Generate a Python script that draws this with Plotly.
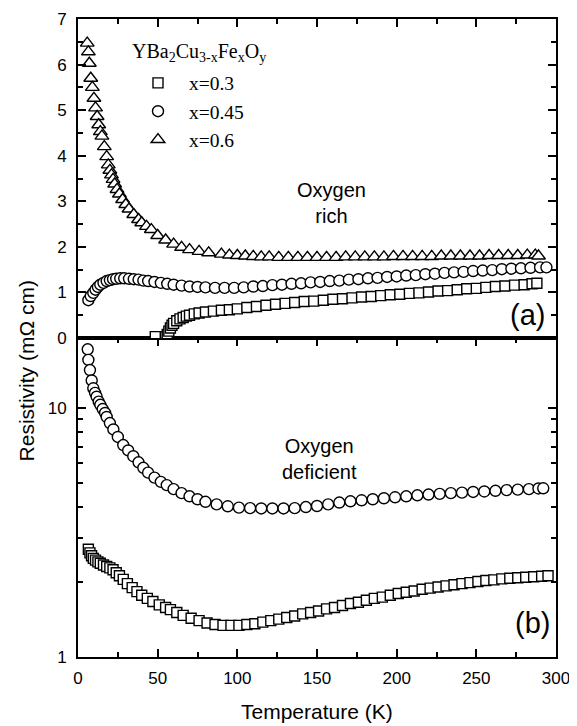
import plotly.graph_objects as go

# ---------------- data ----------------
# (a) Oxygen rich
T_rich_x03 = [48.5, 55, 56, 57, 58, 59, 60, 62, 64, 66, 68, 70, 73, 76, 80, 85, 90, 95, 100,
              106, 112, 118, 124, 130, 136, 142, 148, 154, 160, 166, 172, 178, 184, 190, 196,
              202, 208, 214, 220, 226, 232, 238, 244, 250, 256, 262, 268, 274, 280, 285, 288]
R_rich_x03 = [0.03, 0.03, 0.08, 0.15, 0.22, 0.28, 0.32, 0.38, 0.42, 0.45, 0.48, 0.50, 0.53, 0.55,
              0.57, 0.59, 0.61, 0.62, 0.64, 0.67, 0.69, 0.72, 0.74, 0.76, 0.78, 0.80, 0.81, 0.83,
              0.85, 0.86, 0.88, 0.90, 0.91, 0.93, 0.95, 0.96, 0.98, 0.99, 1.01, 1.03, 1.04, 1.06,
              1.08, 1.09, 1.11, 1.13, 1.14, 1.16, 1.17, 1.19, 1.20]

T_rich_x045 = [6.5, 8, 9.6, 11, 12.5, 14, 16, 18, 20, 22, 24, 26.5, 29, 32, 35, 38, 41, 44, 48,
               52, 56, 60, 65, 70, 75, 80, 86, 92, 98, 104, 110, 116, 122, 128, 134, 140, 146,
               152, 158, 164, 170, 176, 182, 188, 194, 200, 206, 212, 218, 224, 230, 236, 242,
               248, 254, 260, 266, 272, 278, 284, 290, 294]
R_rich_x045 = [0.83, 0.92, 0.99, 1.06, 1.12, 1.17, 1.21, 1.25, 1.27, 1.29, 1.30, 1.31, 1.31, 1.30,
               1.29, 1.28, 1.26, 1.25, 1.23, 1.21, 1.19, 1.17, 1.15, 1.13, 1.12, 1.11, 1.10, 1.10,
               1.10, 1.11, 1.13, 1.14, 1.16, 1.17, 1.19, 1.20, 1.22, 1.23, 1.25, 1.26, 1.28, 1.29,
               1.31, 1.32, 1.34, 1.35, 1.37, 1.38, 1.40, 1.41, 1.43, 1.44, 1.45, 1.47, 1.48, 1.49,
               1.51, 1.52, 1.53, 1.54, 1.55, 1.55]

T_rich_x06 = [5.8, 6.5, 7.1, 8, 9, 10, 11, 12, 13, 14, 15, 16.5, 18, 19, 20, 21, 22, 23, 24.5, 26,
              28, 30, 32, 35, 38, 40, 43, 46, 50, 55, 60, 65, 70, 76, 82, 90, 95, 100, 105, 110,
              115, 120, 126, 132, 138, 144, 150, 156, 162, 168, 174, 180, 186, 192, 198, 204,
              210, 216, 222, 228, 234, 240, 246, 252, 258, 264, 270, 276, 282, 287, 289]
R_rich_x06 = [6.47, 6.28, 6.03, 5.70, 5.50, 5.26, 5.05, 4.86, 4.68, 4.53, 4.43, 4.20, 3.98, 3.80,
              3.68, 3.58, 3.48, 3.38, 3.26, 3.16, 3.04, 2.93, 2.83, 2.71, 2.60, 2.53, 2.45, 2.38,
              2.25, 2.15, 2.06, 1.99, 1.94, 1.90, 1.87, 1.84, 1.82, 1.81, 1.80, 1.79, 1.78, 1.78,
              1.77, 1.77, 1.77, 1.77, 1.77, 1.77, 1.77, 1.78, 1.78, 1.78, 1.78, 1.78, 1.79, 1.79,
              1.79, 1.79, 1.79, 1.80, 1.80, 1.80, 1.80, 1.80, 1.81, 1.81, 1.81, 1.81, 1.82, 1.82,
              1.80]

# (b) Oxygen deficient
T_def_x03 = [6.5, 7.5, 8.5, 9.6, 11, 12.5, 14, 16, 18, 20, 22, 24, 26, 28.4, 31, 34, 37, 40,
             43.5, 47, 51, 55, 58, 62, 66, 71, 76, 81, 86, 91, 96, 101, 106, 111, 116, 121, 126,
             131, 136, 141, 146, 151, 156, 161, 166, 171, 176, 181, 186, 191, 196, 201, 206, 211,
             216, 221, 226, 231, 236, 241, 246, 251, 256, 261, 266, 271, 276, 281, 286, 291, 295]
R_def_x03 = [2.71, 2.62, 2.55, 2.49, 2.45, 2.41, 2.38, 2.34, 2.31, 2.28, 2.24, 2.18, 2.12, 2.05,
             1.97, 1.90, 1.83, 1.77, 1.72, 1.67, 1.62, 1.58, 1.55, 1.51, 1.47, 1.43, 1.40, 1.37,
             1.35, 1.34, 1.34, 1.34, 1.35, 1.36, 1.38, 1.40, 1.42, 1.44, 1.46, 1.49, 1.51, 1.53,
             1.56, 1.58, 1.61, 1.64, 1.66, 1.69, 1.72, 1.74, 1.77, 1.80, 1.82, 1.84, 1.87, 1.89,
             1.91, 1.93, 1.95, 1.97, 1.99, 2.01, 2.03, 2.04, 2.06, 2.07, 2.08, 2.09, 2.10, 2.11,
             2.12]

T_def_x045 = [6.1, 6.5, 7.5, 8.6, 9.6, 10.7, 11.7, 13, 14, 15.5, 17, 18, 20, 22.2, 25, 28.4, 31.5,
              34.7, 38, 41, 44, 48, 52, 55.7, 60, 65, 70, 75, 80, 87, 94, 101, 108, 115, 122, 129,
              136, 143, 150, 157, 164, 171, 178, 185, 192, 199, 206, 213, 220, 227, 234, 241, 248,
              255, 262, 269, 276, 283, 289, 292]
R_def_x045 = [17.2, 15.6, 14.2, 12.9, 12.0, 11.5, 11.1, 10.6, 10.3, 9.9, 9.55, 9.2, 8.7, 8.2, 7.65,
              7.1, 6.75, 6.4, 6.05, 5.75, 5.5, 5.25, 5.05, 4.9, 4.72, 4.55, 4.42, 4.3, 4.2, 4.1,
              4.03, 3.98, 3.96, 3.95, 3.95, 3.95, 3.96, 4.0, 4.04, 4.1, 4.17, 4.22, 4.26, 4.3,
              4.34, 4.38, 4.42, 4.46, 4.49, 4.52, 4.55, 4.57, 4.6, 4.62, 4.65, 4.68, 4.7, 4.72,
              4.75, 4.76]

x_ticks = [0, 50, 100, 150, 200, 250, 300]
legend_labels = ["x=0.3", "x=0.45", "x=0.6"]
formula = "YBa<sub>2</sub>Cu<sub>3-x</sub>Fe<sub>x</sub>O<sub>y</sub>"

# ---------------- figure ----------------
# the page body has an 8px margin, so the figure is 8px smaller than the window
W, H = 569, 718

fig = go.Figure()

def mk(symbol, size):
    return dict(symbol=symbol, size=size, color="white", line=dict(color="black", width=1.4))

# top panel (a)
fig.add_trace(go.Scatter(x=T_rich_x03, y=R_rich_x03, mode="markers", name=legend_labels[0],
                         marker=mk("square", 10), xaxis="x2", yaxis="y2"))
fig.add_trace(go.Scatter(x=T_rich_x045, y=R_rich_x045, mode="markers", name=legend_labels[1],
                         marker=mk("circle", 11), xaxis="x2", yaxis="y2"))
fig.add_trace(go.Scatter(x=T_rich_x06, y=R_rich_x06, mode="markers", name=legend_labels[2],
                         marker=mk("triangle-up", 12), xaxis="x2", yaxis="y2"))
# bottom panel (b)
fig.add_trace(go.Scatter(x=T_def_x03, y=R_def_x03, mode="markers", showlegend=False,
                         marker=mk("square", 10), xaxis="x", yaxis="y"))
fig.add_trace(go.Scatter(x=T_def_x045, y=R_def_x045, mode="markers", showlegend=False,
                         marker=mk("circle", 11), xaxis="x", yaxis="y"))

tickfont = dict(family="Liberation Sans, Arial, sans-serif", size=17, color="black")
common_x = dict(range=[0, 300], tickvals=x_ticks, ticks="inside", ticklen=8, tickwidth=1.5,
                tickcolor="black", showline=True, linewidth=2, linecolor="black",
                showgrid=False, zeroline=False,
                minor=dict(dtick=25, tick0=0, ticks="inside", ticklen=5, tickwidth=1.5,
                           tickcolor="black", showgrid=False))

fig.update_layout(
    width=W, height=H,
    margin=dict(l=70, r=21, t=11, b=69, autoexpand=False),
    paper_bgcolor="white", plot_bgcolor="white",
    font=dict(family="Liberation Sans, Arial, sans-serif", color="black"),
    xaxis=dict(common_x, domain=[0, 1], anchor="y", mirror="ticks", tickfont=tickfont,
               ticklabelstandoff=5),
    yaxis=dict(type="log", range=[0, 1.281], domain=[0, 0.5], anchor="x",
               tickvals=[1, 10], ticktext=["1", "10"], ticks="inside", ticklen=8,
               tickwidth=1.5, tickcolor="black", showline=True, linewidth=2,
               linecolor="black", mirror="ticks", showgrid=False, zeroline=False,
               tickfont=tickfont, ticklabelstandoff=6,
               minor=dict(tickvals=[2, 3, 4, 5, 6, 7, 8, 9, 20], ticks="inside", ticklen=5,
                          tickwidth=1.5, tickcolor="black", showgrid=False)),
    xaxis2=dict(common_x, domain=[0, 1], anchor="y2", side="top", mirror=True,
                showticklabels=False),
    yaxis2=dict(range=[0, 7], domain=[0.5, 1], anchor="x2", dtick=1, tick0=0,
                ticks="inside", ticklen=8, tickwidth=1.5, tickcolor="black",
                showline=True, linewidth=2, linecolor="black", mirror="ticks",
                showgrid=False, zeroline=False, tickfont=tickfont, ticklabelstandoff=6,
                minor=dict(dtick=0.5, tick0=0, ticks="inside", ticklen=5, tickwidth=1.5,
                           tickcolor="black", showgrid=False)),
    showlegend=True,
    legend=dict(x=0.1025, y=0.930, xanchor="left", yanchor="top",
                bgcolor="rgba(0,0,0,0)", borderwidth=0,
                font=dict(family="Liberation Serif, Times New Roman, serif", size=19.5,
                          color="black"),
                itemwidth=52),
)

serif = dict(family="Liberation Serif, Times New Roman, serif", size=20, color="black")
sans = dict(family="Liberation Sans, Arial, sans-serif", size=20, color="black")

annotations = [
    dict(text=formula, xref="paper", yref="paper", x=0.1088, y=0.947, xanchor="left",
         yanchor="middle", showarrow=False, font=serif),
    dict(text="Oxygen<br>rich", xref="paper", yref="paper", x=0.531, y=0.711,
         xanchor="center", yanchor="middle", showarrow=False, font=sans),
    dict(text="Oxygen<br>deficient", xref="paper", yref="paper", x=0.506, y=0.311,
         xanchor="center", yanchor="middle", showarrow=False, font=sans),
    dict(text="(a)", xref="paper", yref="paper", x=0.981, y=0.536, xanchor="right",
         yanchor="middle", showarrow=False, font=dict(sans, size=29)),
    dict(text="(b)", xref="paper", yref="paper", x=0.9916, y=0.053, xanchor="right",
         yanchor="middle", showarrow=False, font=dict(sans, size=29)),
    dict(text="Resistivity (m\u03a9 cm)", xref="paper", yref="paper", x=-0.107, y=0.449,
         xanchor="center", yanchor="middle", textangle=-90, showarrow=False,
         font=dict(sans, size=21)),
    dict(text="Temperature (K)", xref="paper", yref="paper", x=0.5, y=-0.085,
         xanchor="center", yanchor="middle", showarrow=False, font=dict(sans, size=21)),
]
fig.update_layout(annotations=annotations)

fig.write_html("out.html")
